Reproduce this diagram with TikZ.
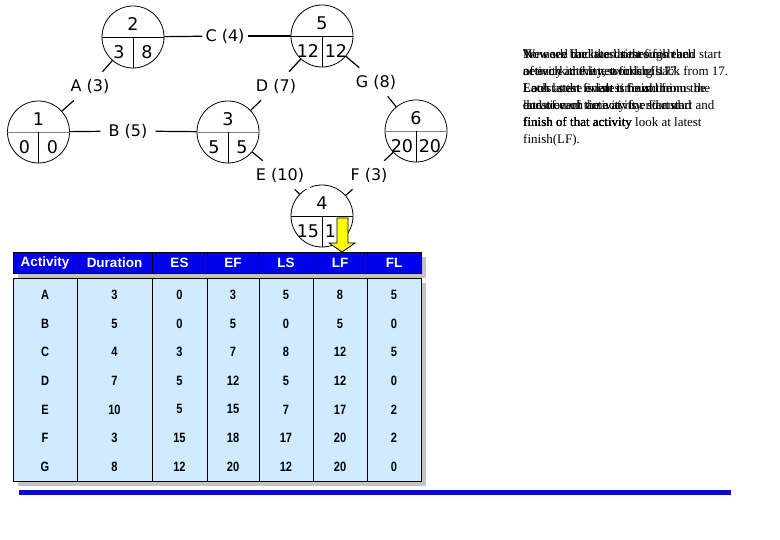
\documentclass[tikz,border=0pt]{standalone}
\usepackage{fontspec}
\usepackage{graphicx}
\setmainfont{Liberation Serif}
\newfontfamily\vf{DejaVu Sans}
\newfontfamily\af{Liberation Sans}
\definecolor{hdrblue}{RGB}{0,0,235}
\definecolor{bodyblue}{RGB}{208,234,255}
\definecolor{shadowgray}{RGB}{195,195,195}
\definecolor{barblue}{RGB}{10,10,210}
\definecolor{arrowyellow}{RGB}{255,255,0}
\newcommand\cellx[1]{\scalebox{0.82}[1]{#1}}
\begin{document}
\begin{tikzpicture}[x=1pt,y=-1pt,
  evt/.style={circle,draw,line width=0.8pt,minimum size=62pt,inner sep=0pt},
  num/.style={font=\vf\fontsize{17.5}{17.5}\selectfont,inner sep=0pt},
  actlbl/.style={font=\vf\fontsize{16}{16}\selectfont,fill=white,inner xsep=6pt,inner ysep=7pt},
  conn/.style={line width=1.2pt},
  hdr/.style={font=\af\bfseries\fontsize{13.5}{13.5}\selectfont,text=white,inner sep=0pt},
  cell/.style={font=\af\bfseries\fontsize{13.5}{13.5}\selectfont,inner sep=0pt},
  note/.style={font=\fontsize{13}{17}\selectfont,align=left,anchor=north west,inner sep=0pt}]
\useasboundingbox (0,0) rectangle (780,540);

% event circles
\node[evt] (e1) at (38.5,132) {};
\node[evt] (e2) at (133,37) {};
\node[evt] (e3) at (228,132) {};
\node[evt] (e5) at (322,36) {};
\node[evt] (e6) at (416,131) {};
\node[evt] (e4) at (322,216) {};

% internal dividers
\foreach \n/\c in {e1/gray,e2/black,e3/gray,e5/black,e6/gray,e4/black}{
  \draw[\c,line width=0.8pt] (\n.west) -- (\n.east);
  \draw[line width=0.8pt] (\n.center) -- (\n.south);
}

% numbers
\foreach \n/\t/\l/\r in {e1/1/0/0,e2/2/3/8,e3/3/5/5,e5/5/12/12,e6/6/20/20,e4/4/15/17}{
  \node[num] at ([yshift=13pt]\n.center) {\t};
  \node[num] at ([xshift=-14pt,yshift=-15pt]\n.center) {\l};
  \node[num] at ([xshift=14pt,yshift=-15pt]\n.center) {\r};
}

% activity labels
\node[actlbl] (la) at (90,86) {A (3)};
\node[actlbl,inner xsep=8pt] (lb) at (128,131) {B (5)};
\node[actlbl,inner xsep=3pt] (lc) at (225,36) {C (4)};
\node[actlbl] (ld) at (276,86) {D (7)};
\node[actlbl] (lg) at (376,82) {G (8)};
\node[actlbl] (le) at (280,175) {E (10)};
\node[actlbl] (lf) at (369,175) {F (3)};

% connectors
\draw[conn] (e1) -- (la); \draw[conn] (la) -- (e2);
\draw[conn] (e1) -- (lb); \draw[conn] (lb) -- (e3);
\draw[conn] (e2) -- (lc); \draw[conn] (lc) -- (e5);
\draw[conn] (e3) -- (ld); \draw[conn] (ld) -- (e5);
\draw[conn] (e5) -- (lg); \draw[conn] (lg) -- (e6);
\draw[conn] (e3) -- (le); \draw[conn] (le) -- (e4);
\draw[conn] (e4) -- (lf); \draw[conn] (lf) -- (e6);

% explanatory (overlapping) text
\node[note] (t1) at (523,49) {Now we find the latest finish and start\\
of each activity, working back from 17.\\
Each latest finish is found from the\\
latest event time at its end and\\
finish of that activity look at latest\\
finish(LF).};
\node[note] (t2) at (523,49) {To work backwards through the\\
network the latest finish is 17.\\
Latest start is latest finish minus the\\
duration of the activity. For start and\\
finish of that activity};
\node[note] (t3) at (523,49) {We need the latest times for each\\
activity in the network of 17.\\
Look at the event time at the\\
end of each activity for start and\\
finish of that activity};

% table shadows
\fill[shadowgray] (18,257) rectangle (426,278);
\fill[shadowgray] (18,283) rectangle (426,486);

% header row
\fill[hdrblue] (13,252) rectangle (421,273);
\draw[black,line width=0.6pt] (13,252) rectangle (421,273);
\foreach \x in {77,152,207,259,313,367}{
  \draw[black,line width=0.6pt] (\x,252) -- (\x,273);
}
% body
\fill[bodyblue] (13,278) rectangle (421,481);
\draw[black,line width=0.8pt] (13,278) rectangle (421,481);
\foreach \x in {77,152,207,259,313,367}{
  \draw[black,line width=0.8pt] (\x,278) -- (\x,481);
}

% header text
\foreach \x/\t/\k in {45/Activity/h1,114.5/Duration/h2,179.5/ES/h3,233/EF/h4,286/LS/h5,340/LF/h6,394/FL/h7}{
  \node[hdr] (\k) at (\x,263) {\t};
}

% body text
\foreach \a/\d/\es/\ef/\ls/\lf/\fl [count=\i] in {
  A/3/0/3/5/8/5, B/5/0/5/0/5/0, C/4/3/7/8/12/5, D/7/5/12/5/12/0,
  E/10/5/15/7/17/2, F/3/15/18/17/20/2, G/8/12/20/12/20/0}{
  \pgfmathsetmacro{\yy}{295+28.6*(\i-1)}
  \node[cell] (r\i c1) at (45,\yy) {\cellx{\a}};
  \node[cell] (r\i c2) at (114.5,\yy) {\cellx{\d}};
  \node[cell] (r\i c3) at (179.5,\yy) {\cellx{\es}};
  \node[cell] (r\i c4) at (233,\yy) {\cellx{\ef}};
  \node[cell] (r\i c5) at (286,\yy) {\cellx{\ls}};
  \node[cell] (r\i c6) at (340,\yy) {\cellx{\lf}};
  \node[cell] (r\i c7) at (394,\yy) {\cellx{\fl}};
}

% bottom bar
\fill[barblue] (19,490) rectangle (731,495);

% yellow arrow
\draw[fill=arrowyellow,line width=0.8pt] (337,218) -- (348,218) -- (348,243) -- (355,243)
  -- (342,252) -- (329,243) -- (337,243) -- cycle;
\end{tikzpicture}
\end{document}
